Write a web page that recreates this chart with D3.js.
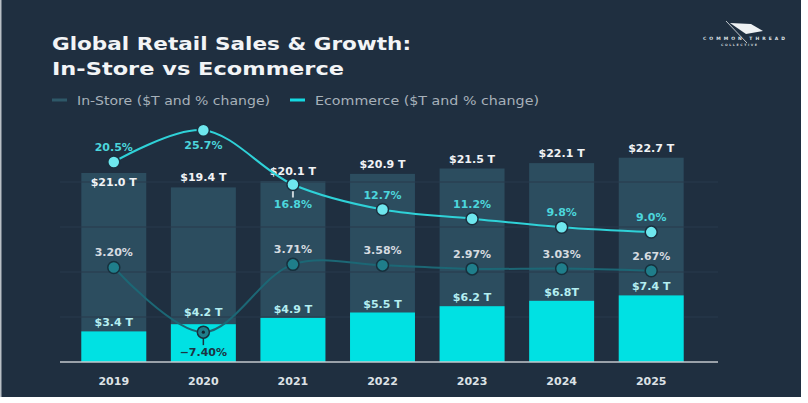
<!DOCTYPE html>
<meta charset="utf-8">
<html>
  <head>
    <script src="https://d3js.org/d3.v7.min.js"></script>
    <title>Global Retail Sales & Growth</title>
    <style>
      body { margin: 0; background: #fff; }
      text { font-family: 'DejaVu Sans', sans-serif; }
    </style>
  </head>
  <body>
  <script>

const years = ['2019', '2020', '2021', '2022', '2023', '2024', '2025'];
const instore_sales = [21.0, 19.4, 20.1, 20.9, 21.5, 22.1, 22.7];      // $T
const ecom_sales = [3.4, 4.2, 4.9, 5.5, 6.2, 6.8, 7.4];                // $T
const instore_growth = [3.20, -7.40, 3.71, 3.58, 2.97, 3.03, 2.67];   // % change
const ecom_growth = [20.5, 25.7, 16.8, 12.7, 11.2, 9.8, 9.0];          // % change
const instore_sales_labels = ['$21.0 T', '$19.4 T', '$20.1 T', '$20.9 T', '$21.5 T', '$22.1 T', '$22.7 T'];
const ecom_sales_labels = ['$3.4 T', '$4.2 T', '$4.9 T', '$5.5 T', '$6.2 T', '$6.8T', '$7.4 T'];
const instore_growth_labels = ['3.20%', '\u22127.40%', '3.71%', '3.58%', '2.97%', '3.03%', '2.67%'];
const ecom_growth_labels = ['20.5%', '25.7%', '16.8%', '12.7%', '11.2%', '9.8%', '9.0%'];
const grid_ticks = [5, 10, 15, 20];

const width = 808, height = 403;
const bg = '#1f2f40',
      instore_bar = '#2c4d5f',
      ecom_bar = '#00e1e3',
      ecom_line = '#2fd2d8',
      ecom_dot = '#6ee7ee',
      instore_line = '#1c6775',
      instore_dot = '#1f7e8b';

const rows = years.map((y, i) => ({
  year: y,
  instore: instore_sales[i], ecom: ecom_sales[i],
  ig: instore_growth[i], eg: ecom_growth[i],
  il: instore_sales_labels[i], el: ecom_sales_labels[i],
  igl: instore_growth_labels[i], egl: ecom_growth_labels[i]
}));

const svg = d3.select('body').append('svg')
  .attr('width', width).attr('height', height);

svg.append('rect').attr('width', 801).attr('height', 397).attr('fill', bg);
svg.append('rect').attr('width', 1.5).attr('height', 397).attr('fill', '#b9c0c6');

const x = d3.scaleBand().domain(years).range([69, 696]).paddingInner(0.275).paddingOuter(0.1375),
      y = d3.scaleLinear().domain([0, 25]).range([362, 137]),
      yp = d3.scaleLinear().domain([-10, 30]).range([348, 104]);
const cx = d => x(d.year) + x.bandwidth() / 2;

// title
svg.append('text').attr('x', 52).attr('y', 50)
  .attr('font-size', 18.5).attr('font-weight', 700).attr('fill', '#f2f4f6')
  .attr('textLength', 359).attr('lengthAdjust', 'spacingAndGlyphs')
  .text('Global Retail Sales & Growth:');
svg.append('text').attr('x', 52).attr('y', 75)
  .attr('font-size', 18.5).attr('font-weight', 700).attr('fill', '#f2f4f6')
  .attr('textLength', 292).attr('lengthAdjust', 'spacingAndGlyphs')
  .text('In-Store vs Ecommerce');

// legend
const legend = [
  { label: 'In-Store ($T and % change)', colour: '#2e5868', x: 52, len: 193 },
  { label: 'Ecommerce ($T and % change)', colour: '#14d9e0', x: 290, len: 224 }
];
legend.forEach(l => {
  svg.append('line').attr('x1', l.x).attr('x2', l.x + 15).attr('y1', 100).attr('y2', 100)
    .attr('stroke', l.colour).attr('stroke-width', 3);
  svg.append('text').attr('x', l.x + 25).attr('y', 104.5)
    .attr('font-size', 11.5).attr('fill', '#a7b1ba')
    .attr('textLength', l.len).attr('lengthAdjust', 'spacingAndGlyphs')
    .text(l.label);
});

// logo
const logo = svg.append('g');
logo.append('line').attr('x1', 726).attr('y1', 21).attr('x2', 747).attr('y2', 43)
  .attr('stroke', '#e8ecef').attr('stroke-width', 0.8);
logo.append('path').attr('d', 'M730,23 L751,24 L763,31 L746,34 Z').attr('fill', '#eef1f3');
logo.append('text').attr('x', 703).attr('y', 40).attr('font-size', 4.5).attr('font-weight', 700)
  .attr('fill', '#dfe4e8').attr('textLength', 82).attr('lengthAdjust', 'spacing').text('COMMON THREAD');
logo.append('text').attr('x', 721).attr('y', 46).attr('font-size', 3.2).attr('font-weight', 700)
  .attr('fill', '#c9d0d5').attr('textLength', 36).attr('lengthAdjust', 'spacing').text('COLLECTIVE');

// bars
svg.append('g').selectAll('rect').data(rows).join('rect')
  .attr('x', d => x(d.year)).attr('width', x.bandwidth())
  .attr('y', d => y(d.instore)).attr('height', d => y(0) - y(d.instore))
  .attr('fill', instore_bar);

svg.append('g').selectAll('line').data(grid_ticks).join('line')
  .attr('x1', 60).attr('x2', 718).attr('y1', d => y(d)).attr('y2', d => y(d))
  .attr('stroke', '#283b4c').attr('stroke-width', 1);

svg.append('g').selectAll('rect').data(rows).join('rect')
  .attr('x', d => x(d.year)).attr('width', x.bandwidth())
  .attr('y', d => y(d.ecom)).attr('height', d => y(0) - y(d.ecom))
  .attr('fill', ecom_bar);

// axis line and years
svg.append('line').attr('x1', 60).attr('x2', 718).attr('y1', y(0)).attr('y2', y(0))
  .attr('stroke', '#c3c8cc').attr('stroke-width', 1.5);

svg.append('g').selectAll('text').data(rows).join('text')
  .attr('x', cx).attr('y', 385).attr('text-anchor', 'middle')
  .attr('font-size', 11).attr('font-weight', 700).attr('fill', '#dde2e6')
  .text(d => d.year);

// $ labels
svg.append('g').selectAll('text').data(rows).join('text')
  .attr('x', cx).attr('y', (d, i) => i === 0 ? y(d.instore) + 13 : y(d.instore) - 6)
  .attr('text-anchor', 'middle').attr('font-size', 11).attr('font-weight', 700)
  .attr('fill', '#f1f3f5').text(d => d.il);

svg.append('g').selectAll('text').data(rows).join('text')
  .attr('x', cx).attr('y', (d, i) => i === 1 ? y(d.ecom) - 8 : y(d.ecom) - 5)
  .attr('text-anchor', 'middle').attr('font-size', 11).attr('font-weight', 700)
  .attr('fill', '#b4eef1').text(d => d.el);

// growth lines
const line_for = key => d3.line().x(cx).y(d => yp(d[key])).curve(d3.curveCatmullRom.alpha(0.5));

svg.append('path').datum(rows).attr('d', line_for('ig'))
  .attr('fill', 'none').attr('stroke', instore_line).attr('stroke-width', 2);
svg.append('path').datum(rows).attr('d', line_for('eg'))
  .attr('fill', 'none').attr('stroke', ecom_line).attr('stroke-width', 2);

// connectors to labels placed below their points
svg.append('line').attr('x1', cx(rows[2])).attr('x2', cx(rows[2]))
  .attr('y1', yp(rows[2].eg) + 5).attr('y2', yp(rows[2].eg) + 13)
  .attr('stroke', '#c9d2d8').attr('stroke-width', 2);
svg.append('line').attr('x1', cx(rows[1])).attr('x2', cx(rows[1]))
  .attr('y1', yp(rows[1].ig)).attr('y2', yp(rows[1].ig) + 13)
  .attr('stroke', '#1b3441').attr('stroke-width', 1.5);

svg.append('g').selectAll('circle').data(rows).join('circle')
  .attr('cx', cx).attr('cy', d => yp(d.ig)).attr('r', 6)
  .attr('fill', instore_dot).attr('stroke', '#16303d').attr('stroke-width', 1.5);
svg.append('circle').attr('cx', cx(rows[1])).attr('cy', yp(rows[1].ig)).attr('r', 1.6).attr('fill', '#12242f');

svg.append('g').selectAll('circle').data(rows).join('circle')
  .attr('cx', cx).attr('cy', d => yp(d.eg)).attr('r', 6)
  .attr('fill', ecom_dot).attr('stroke', '#1a2f3e').attr('stroke-width', 1.5);

// growth labels
const ecom_below = ['2020', '2021'];
svg.append('g').selectAll('text').data(rows).join('text')
  .attr('x', cx).attr('y', d => d.year === '2020' ? yp(d.eg) + 19 : d.year === '2021' ? yp(d.eg) + 23 : yp(d.eg) - 11)
  .attr('text-anchor', 'middle').attr('font-size', 11).attr('font-weight', 700)
  .attr('fill', '#4cd6dc').text(d => d.egl);

svg.append('g').selectAll('text').data(rows).join('text')
  .attr('x', cx).attr('y', d => d.ig < 0 ? yp(d.ig) + 24 : yp(d.ig) - 11)
  .attr('text-anchor', 'middle').attr('font-size', 11).attr('font-weight', 700)
  .attr('fill', d => d.ig < 0 ? '#1c3443' : '#d6dbe0').text(d => d.igl);

  </script>
  </body>
</html>
